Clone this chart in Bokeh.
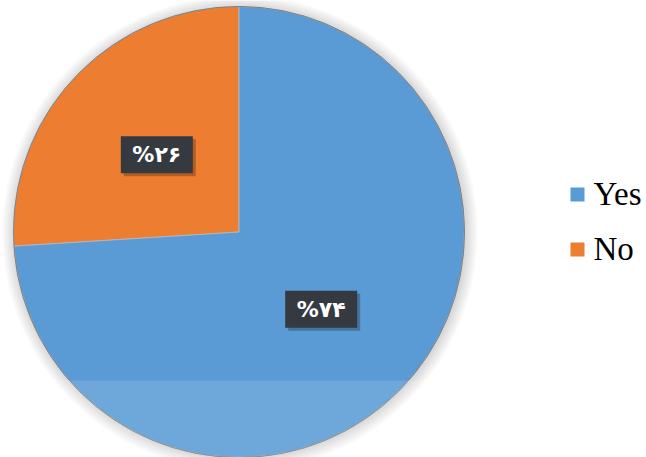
import math
from bokeh.plotting import figure
from bokeh.models import Range1d, ColumnDataSource
from bokeh.core.properties import value
from bokeh.embed import file_html
from bokeh.resources import INLINE

# ---- data ----
categories = ["Yes", "No"]
percents = [74, 26]
slice_labels = ["%\u06f7\u06f4", "%\u06f2\u06f6"]
colors = ["#5b9bd5", "#ed7d31"]

W, H = 646, 457
p = figure(width=W, height=H, x_range=Range1d(0, W), y_range=Range1d(0, H),
           output_backend="svg", toolbar_location=None, min_border=0)
p.axis.visible = False
p.grid.visible = False
p.outline_line_color = None
p.background_fill_color = "white"
p.border_fill_color = "white"

cx, cy, R = 238.5, 225.5, 225.5

# soft shadow around pie
for i in range(8):
    p.circle(x=[cx + 1], y=[cy - 1], radius=R + 1 + i * 1.6,
             fill_color="black", fill_alpha=0.018, line_color=None)

# wedges: "No" starts at 12 o'clock going anticlockwise, then "Yes"
order = [1, 0]
start = math.pi / 2
starts, ends, mids, cols, labs = [], [], [], [], []
for k in order:
    span = percents[k] / 100 * 2 * math.pi
    starts.append(start)
    ends.append(start + span)
    mids.append(start + span / 2)
    cols.append(colors[k])
    labs.append(slice_labels[k])
    start += span

src = ColumnDataSource(dict(
    x=[cx] * len(order), y=[cy] * len(order),
    start=starts, end=ends, color=cols,
))
p.wedge(x="x", y="y", radius=R, start_angle="start", end_angle="end",
        direction="anticlock", fill_color="color", line_color="#b5b5b5",
        line_width=1, source=src)
p.circle(x=[cx], y=[cy], radius=R, fill_color=None, line_color="#808080",
         line_width=1)

# lighter band at bottom (faded overlay)
p.quad(left=[0], right=[W], bottom=[0], top=[H - 380],
       fill_color="white", fill_alpha=0.12, line_color=None)

# labels
lx = [cx + 0.5 * R * math.cos(m) for m in mids]
ly = [cy + 0.5 * R * math.sin(m) for m in mids]
p.rect(x=[v + 3 for v in lx], y=[v - 3 for v in ly], width=72, height=37,
       fill_color="black", fill_alpha=0.25, line_color=None)
p.rect(x=lx, y=ly, width=72, height=37, fill_color="#343a40",
       line_color=None)
p.text(x=lx, y=ly, text=labs, text_color="white",
       text_font=value("DejaVu Sans"), text_font_style="bold",
       text_font_size="22px", text_align="center", text_baseline="middle")

# legend
leg_sq_x = 577
leg_y0 = 263
leg_step = 55
sq_y = [leg_y0 - i * leg_step for i in range(len(categories))]
p.rect(x=[leg_sq_x] * len(categories), y=sq_y, width=14, height=14,
       fill_color=colors, line_color=None)
p.text(x=[leg_sq_x + 16] * len(categories), y=[v + 1 for v in sq_y],
       text=categories, text_color="black",
       text_font=value("Liberation Serif"), text_font_size="33px",
       text_align="left", text_baseline="middle")

open("out.html", "w").write(file_html(p, INLINE))
